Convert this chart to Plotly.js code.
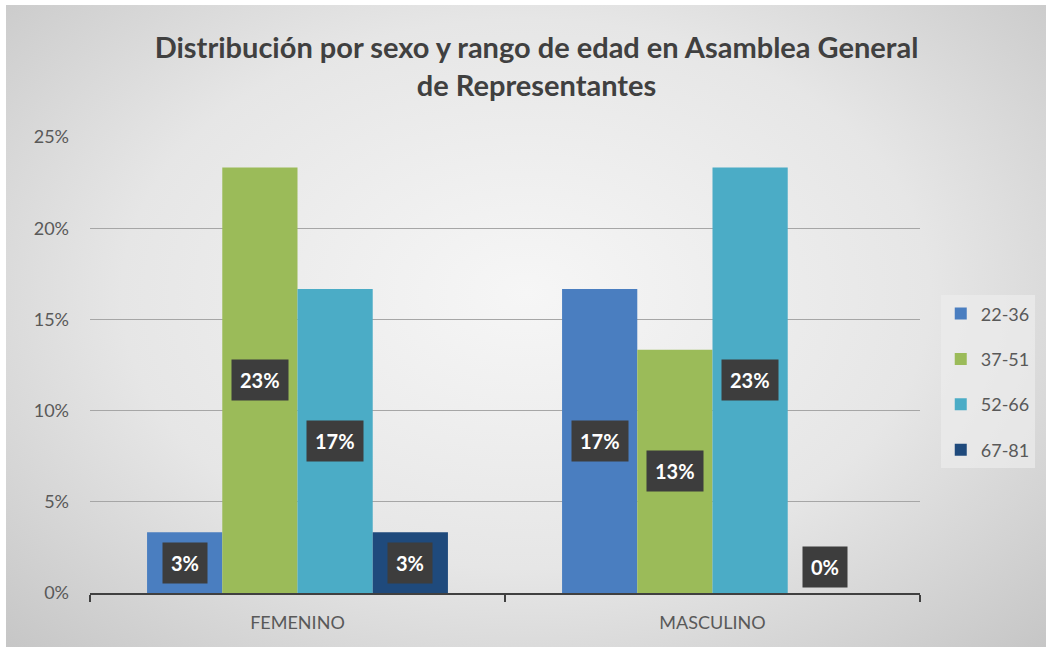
<!DOCTYPE html>
<html>
<head>
<meta charset="utf-8">
<script src="https://cdn.plot.ly/plotly-3.0.1.min.js"></script>
<style>
  html, body { margin: 0; padding: 0; background: #ffffff; }
  #wrap { position: absolute; left: 6px; top: 5px; width: 1040px; height: 642px;
          background: radial-gradient(ellipse at 50% 45%, #f6f6f6 0%, #e6e6e6 55%, #c6c6c6 100%); }
  #chart { position: absolute; left: -6px; top: -5px; width: 1052px; height: 652px; }
</style>
</head>
<body>
<div id="wrap"><div id="chart"></div></div>
<script>
const categories = ['FEMENINO', 'MASCULINO'];
const seriesNames = ['22-36', '37-51', '52-66', '67-81'];
const values2236 = [0.0333, 0.1667];
const values3751 = [0.2333, 0.1333];
const values5266 = [0.1667, 0.2333];
const values6781 = [0.0333, 0.0];
const colors = ['#4a7ec0', '#9bbb59', '#4bacc6', '#1f4a7c'];
const yTickVals = [0, 0.05, 0.10, 0.15, 0.20, 0.25];

const allValues = [values2236, values3751, values5266, values6781];
const bargap = 0.275;
const barW = (1 - bargap) / seriesNames.length;
const FONT = 'Lato, "Open Sans", sans-serif';

const traces = seriesNames.map((name, i) => ({
  type: 'bar',
  name: name,
  x: categories,
  y: allValues[i],
  marker: { color: colors[i] },
  legendgroup: name,
  hoverinfo: 'skip'
}));

const annotations = [];
allValues.forEach((vals, i) => {
  vals.forEach((v, c) => {
    annotations.push({
      xref: 'x', yref: 'y',
      x: c - (1 - bargap) / 2 + (i + 0.5) * barW,
      y: Math.max(v / 2, 0.014),
      text: '<b>' + Math.round(v * 100) + '%</b>',
      showarrow: false,
      font: { family: FONT, size: 20, color: '#ffffff' },
      bgcolor: '#3d3d3d',
      borderpad: 8
    });
  });
});

const layout = {
  width: 1052, height: 652,
  paper_bgcolor: 'rgba(0,0,0,0)',
  plot_bgcolor: 'rgba(0,0,0,0)',
  margin: { l: 90, r: 132, t: 137, b: 59, autoexpand: false },
  title: {
    text: '<b>Distribución por sexo y rango de edad en Asamblea General<br>de Representantes</b>',
    font: { family: FONT, size: 29, color: '#404040' },
    x: 0.51, xanchor: 'center', y: 0.911, yanchor: 'middle'
  },
  barmode: 'group',
  bargap: bargap,
  bargroupgap: 0,
  showlegend: true,
  legend: {
    x: 1.025, xanchor: 'left', y: 0.463, yanchor: 'middle',
    bgcolor: 'rgba(236,236,236,0.7)',
    font: { family: FONT, size: 18, color: '#595959' },
    traceorder: 'grouped', tracegroupgap: 19,
    itemwidth: 30
  },
  xaxis: {
    type: 'category',
    showline: true, linecolor: '#404040', linewidth: 2,
    ticks: 'outside', tickson: 'boundaries', ticklen: 7, tickcolor: '#404040', tickwidth: 2,
    ticklabelstandoff: 12,
    tickfont: { family: FONT, size: 18, color: '#595959' },
    showgrid: false
  },
  yaxis: {
    range: [0, 0.25],
    tickvals: yTickVals,
    tickformat: '.0%',
    showgrid: true, gridcolor: '#a6a6a6', gridwidth: 1,
    zeroline: false, showline: false,
    ticklabelstandoff: 20,
    tickfont: { family: FONT, size: 18, color: '#595959' }
  },
  annotations: annotations
};

Plotly.newPlot('chart', traces, layout, { displayModeBar: false, staticPlot: true });
</script>
</body>
</html>
